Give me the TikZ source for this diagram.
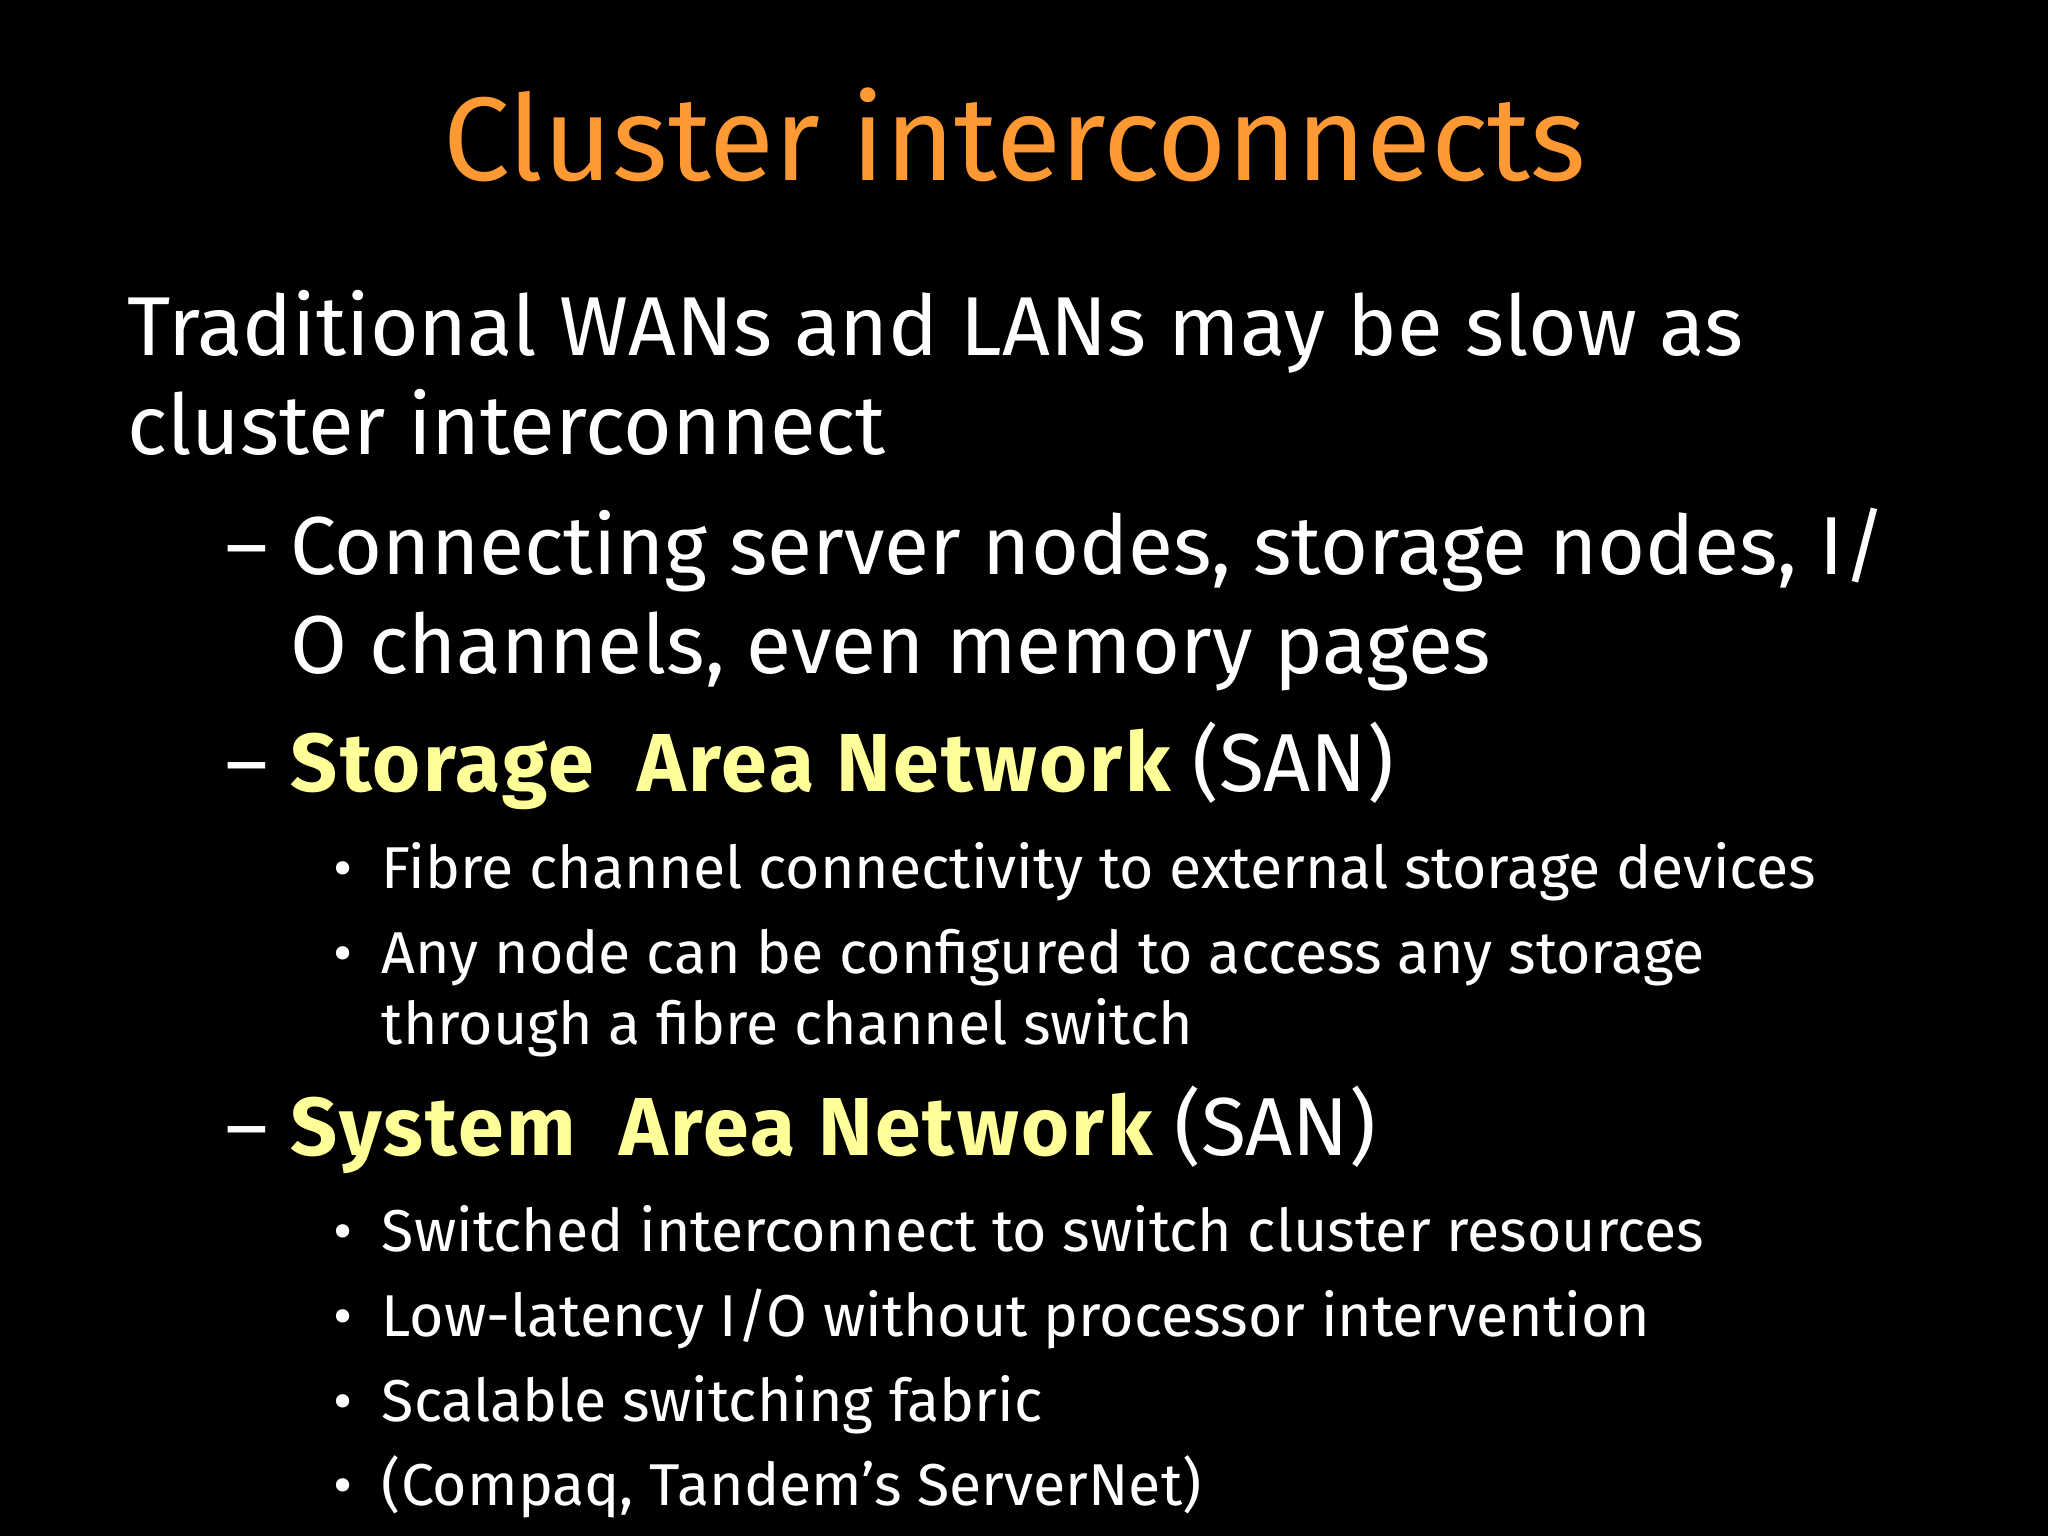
\documentclass[tikz,border=0pt]{standalone}
\usepackage{fontspec}
\setmainfont{Fira Sans}
\definecolor{titleorange}{RGB}{255,153,51}
\definecolor{keyyellow}{RGB}{255,255,153}
\tikzset{
  title/.style={anchor=base, text=titleorange, font=\fontsize{45.5}{54}\selectfont},
  lvlone/.style={anchor=base west, text=white, font=\fontsize{32}{38}\selectfont, inner sep=0pt},
  lvltwo/.style={anchor=base west, text=white, font=\fontsize{31.5}{38}\selectfont, inner sep=0pt},
  lvlthree/.style={anchor=base west, text=white, font=\fontsize{22.6}{27}\selectfont, inner sep=0pt}
}
\newcommand{\hl}[1]{\textcolor{keyyellow}{\bfseries\addfontfeature{LetterSpace=3} #1}}
\begin{document}
\begin{tikzpicture}[x=0.5pt,y=-0.5pt]
\fill[black] (0,0) rectangle (1568,1176);
\useasboundingbox (0,0) rectangle (1568,1176);

% Title
\node[title] (head) at (777,138) {Cluster interconnects};

% First level
\node[lvlone] (trad) at (97,272) {Traditional WANs and LANs may be slow as};
\node[lvlone] (trad2) at (97,348) {cluster interconnect};

% Second level
\node[lvltwo] (dconn) at (172,440) {--};
\node[lvltwo] (conn) at (222,440) {Connecting server nodes, storage nodes, I/};
\node[lvltwo] (conn2) at (222,516) {O channels, even memory pages};
\node[lvltwo] (dstor) at (172,606) {--};
\node[lvltwo] (stor) at (222,606) {\hl{Storage\ \ Area Network} (SAN)};

% Third level
\foreach \y/\txt [count=\i] in {680/{Fibre channel connectivity to external storage devices},
                                745/{Any node can be configured to access any storage}}
  \node[lvlthree] (sbul\i) at (292,\y) {\txt};
\foreach \y in {680,745}
  \node[lvlthree] at (255,\y) {\textbullet};
\node[lvlthree] (sbul3) at (292,800) {through a fibre channel switch};

\node[lvltwo] (dsys) at (172,885) {--};
\node[lvltwo] (sys) at (222,885) {\hl{System\ \ Area Network} (SAN)};

\foreach \y/\txt [count=\i] in {958/{Switched interconnect to switch cluster resources},
                                1023/{Low-latency I/O without processor intervention},
                                1088/{Scalable switching fabric},
                                1153/{(Compaq, Tandem’s ServerNet)}}{
  \node[lvlthree] at (255,\y) {\textbullet};
  \node[lvlthree] (ybul\i) at (292,\y) {\txt};
}
\end{tikzpicture}
\end{document}
